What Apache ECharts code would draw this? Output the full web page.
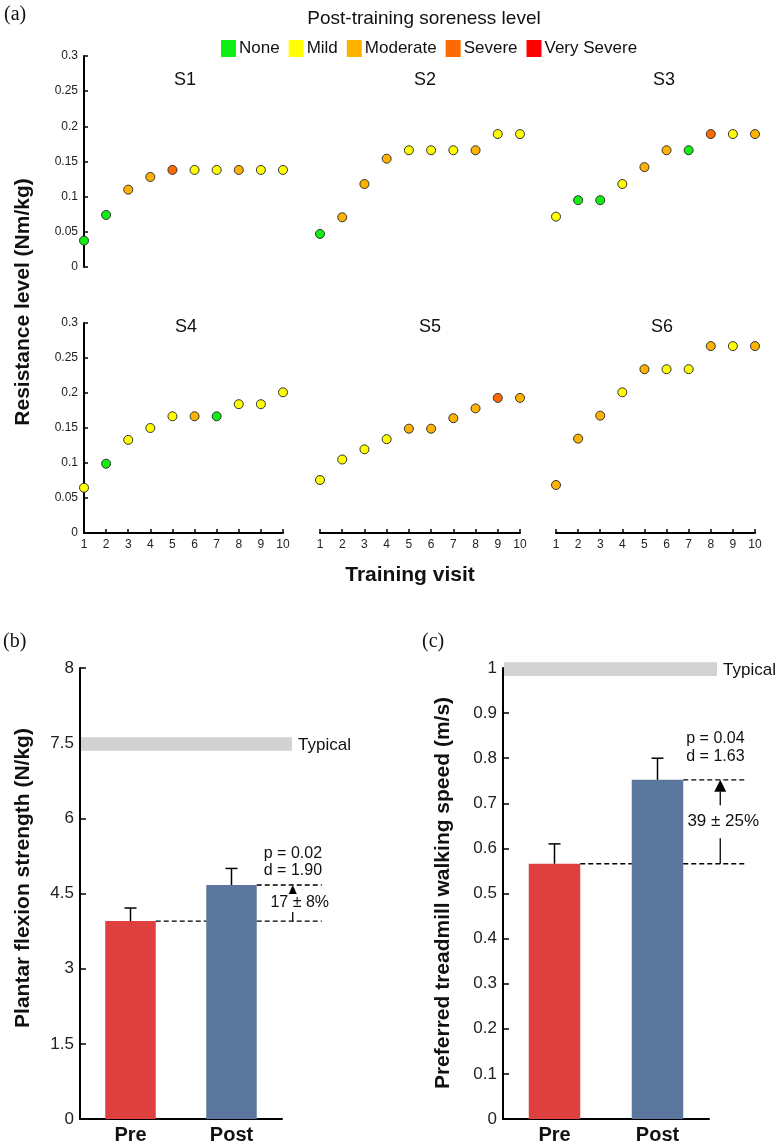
<!DOCTYPE html>
<html><head><meta charset="utf-8">
<script src="https://cdn.jsdelivr.net/npm/echarts@6/dist/echarts.min.js"></script>
<style>html,body{margin:0;padding:0;background:#fff}#c{width:778px;height:1145px}</style>
</head><body><div id="c"></div>
<script>
// ---------- DATA ----------
const levelNames = ['None', 'Mild', 'Moderate', 'Severe', 'Very Severe'];
const levelColors = ['#11EE11', '#FFFF00', '#FFB300', '#FF6A00', '#FF0000'];
const visits = [1, 2, 3, 4, 5, 6, 7, 8, 9, 10];
const subjects = ['S1', 'S2', 'S3', 'S4', 'S5', 'S6'];
// resistance level (Nm/kg) per training visit
const S1_resistance = [0.0375, 0.074, 0.110, 0.128, 0.138, 0.138, 0.138, 0.138, 0.138, 0.138];
const S2_resistance = [0.047, 0.0707, 0.118, 0.154, 0.166, 0.166, 0.166, 0.166, 0.189, 0.189];
const S3_resistance = [0.0716, 0.095, 0.095, 0.118, 0.142, 0.166, 0.166, 0.189, 0.189, 0.189];
const S4_resistance = [0.0647, 0.099, 0.133, 0.150, 0.1667, 0.1667, 0.1667, 0.184, 0.184, 0.201];
const S5_resistance = [0.0757, 0.105, 0.1196, 0.134, 0.149, 0.149, 0.164, 0.178, 0.193, 0.193];
const S6_resistance = [0.0686, 0.1348, 0.1676, 0.201, 0.234, 0.234, 0.234, 0.267, 0.267, 0.267];
// post-training soreness (index into levelNames)
const S1_soreness = [0, 0, 2, 2, 3, 1, 1, 2, 1, 1];
const S2_soreness = [0, 2, 2, 2, 1, 1, 1, 2, 1, 1];
const S3_soreness = [1, 0, 0, 1, 2, 2, 0, 3, 1, 2];
const S4_soreness = [1, 0, 1, 1, 1, 2, 0, 1, 1, 1];
const S5_soreness = [1, 1, 1, 1, 2, 2, 2, 2, 3, 2];
const S6_soreness = [2, 2, 2, 1, 2, 1, 1, 2, 1, 2];
const resistanceTicks = [0, 0.05, 0.1, 0.15, 0.2, 0.25, 0.3];

const phases = ['Pre', 'Post'];
const strength_mean = [3.95, 4.67];
const strength_errTop = [4.21, 5.00];
const strength_typical = [7.35, 7.62];
const strength_tickLabels = ['0', '1.5', '3', '4.5', '6', '7.5', '8'];
const strength_stats = ['p = 0.02', 'd = 1.90', '17 ± 8%'];

const speed_mean = [0.566, 0.752];
const speed_errTop = [0.61, 0.80];
const speed_typical = [0.982, 1.013];
const speed_stats = ['p = 0.04', 'd = 1.63', '39 ± 25%'];

const barColors = ['#DE4040', '#5B779E'];

// ---------- LAYOUT / STYLE ----------
const FONT = '"Liberation Sans", Arial, Helvetica, sans-serif';
const SERIF = '"Liberation Serif", "Times New Roman", serif';
const resist = [S1_resistance, S2_resistance, S3_resistance, S4_resistance, S5_resistance, S6_resistance];
const sore = [S1_soreness, S2_soreness, S3_soreness, S4_soreness, S5_soreness, S6_soreness];

const grids = [
  { left: 84, top: 56, width: 199, height: 211 },
  { left: 320, top: 56, width: 200, height: 211 },
  { left: 556, top: 56, width: 199, height: 211 },
  { left: 84, top: 323, width: 199, height: 210 },
  { left: 320, top: 323, width: 200, height: 210 },
  { left: 556, top: 323, width: 199, height: 210 },
  { left: 80, top: 668, width: 202, height: 451 },
  { left: 503, top: 668, width: 206, height: 451 }
];
const labelPos = [[185, 80], [425, 80], [664, 80], [186, 327], [430, 327], [662, 327]];

const axisLine = { show: true, lineStyle: { color: '#000', width: 2 } };
const tickIn = (len) => ({ show: true, inside: true, length: len, lineStyle: { color: '#000', width: 1.5 } });

const xAxes = [], yAxes = [], series = [];
for (let p = 0; p < 6; p++) {
  const bottom = p >= 3;
  xAxes.push({
    gridIndex: p, type: 'value', min: visits[0], max: visits[visits.length - 1], interval: 1,
    show: bottom, axisLine: axisLine, axisTick: tickIn(4), splitLine: { show: false },
    axisLabel: { fontSize: 12, color: '#222', fontFamily: FONT, margin: 6 }
  });
  yAxes.push({
    gridIndex: p, type: 'value', min: resistanceTicks[0], max: resistanceTicks[resistanceTicks.length - 1],
    interval: 0.05, show: p === 0 || p === 3, axisLine: axisLine, axisTick: tickIn(4), splitLine: { show: false },
    axisLabel: { fontSize: 12, color: '#222', fontFamily: FONT, margin: 6 }
  });
  for (let l = 0; l < levelNames.length; l++) {
    const data = [];
    visits.forEach((v, i) => { if (sore[p][i] === l) data.push([v, resist[p][i]]); });
    series.push({
      type: 'scatter', name: levelNames[l], xAxisIndex: p, yAxisIndex: p, data: data,
      symbol: 'circle', symbolSize: 9, clip: false,
      itemStyle: { color: levelColors[l], borderColor: '#333', borderWidth: 1, opacity: 1 },
      emphasis: { disabled: true }, z: 5
    });
  }
}

// ---------- BAR PANELS ----------
function barPanel(gi, means, errTop, typical, stats, cfg, yAxisCfg) {
  xAxes.push({
    gridIndex: gi, type: 'category', data: phases, axisLine: axisLine,
    axisTick: { show: true, inside: true, alignWithLabel: true, length: 5, lineStyle: { color: '#000', width: 1.5 } },
    axisLabel: { fontSize: 20, fontWeight: 'bold', color: '#111', fontFamily: FONT, margin: 6 }
  });
  yAxes.push(Object.assign({
    gridIndex: gi, type: 'value', axisLine: axisLine, axisTick: tickIn(6), splitLine: { show: false }
  }, yAxisCfg));
  // bars
  series.push({
    type: 'bar', xAxisIndex: gi, yAxisIndex: gi, barWidth: '50%', z: 2,
    data: means.map((m, i) => ({ value: m, itemStyle: { color: barColors[i] } })),
    emphasis: { disabled: true }
  });
  // error bars
  series.push({
    type: 'custom', xAxisIndex: gi, yAxisIndex: gi, clip: false, z: 4,
    data: means.map((m, i) => [i, m, errTop[i]]), encode: { x: 0, y: [1, 2] },
    renderItem: function (params, api) {
      const b = api.coord([api.value(0), api.value(1)]);
      const t = api.coord([api.value(0), api.value(2)]);
      const st = { stroke: '#000', lineWidth: 1.5 };
      return { type: 'group', children: [
        { type: 'line', shape: { x1: b[0], y1: b[1], x2: t[0], y2: t[1] }, style: st },
        { type: 'line', shape: { x1: t[0] - 6, y1: t[1], x2: t[0] + 6, y2: t[1] }, style: st }
      ] };
    }
  });
  // typical band
  series.push({
    type: 'custom', xAxisIndex: gi, yAxisIndex: gi, clip: false, z: 1,
    data: [[0, typical[0], typical[1]]], encode: { x: 0, y: [1, 2] },
    renderItem: function (params, api) {
      const cs = params.coordSys;
      const yLo = api.coord([0, api.value(1)])[1];
      const yHi = api.coord([0, api.value(2)])[1];
      const x0 = cs.x + 1, x1 = cs.x + cs.width + cfg.bandExt;
      return { type: 'group', children: [
        { type: 'rect', shape: { x: x0, y: yHi, width: x1 - x0, height: yLo - yHi }, style: { fill: '#D2D2D2' } },
        { type: 'text', x: x1 + 6, y: (yLo + yHi) / 2 + 1,
          style: { text: 'Typical', fill: '#111', font: '17px ' + FONT, align: 'left', verticalAlign: 'middle' } }
      ] };
    }
  });
  // change annotation
  series.push({
    type: 'custom', xAxisIndex: gi, yAxisIndex: gi, clip: false, z: 6,
    data: [[1, means[0], means[1]]], encode: { x: 0, y: [1, 2] },
    renderItem: function (params, api) {
      const pre = api.value(1), post = api.value(2);
      const half = api.size([1, 0])[0] * 0.25;
      const cPre = api.coord([0, pre]), cPostPre = api.coord([1, pre]), cPost = api.coord([1, post]);
      const preR = cPre[0] + half, postL = cPostPre[0] - half, postR = cPost[0] + half;
      const yPre = cPre[1], yPost = cPost[1];
      const xEnd = postR + cfg.lineExt, ax = postR + cfg.arrowDx;
      const dash = { stroke: '#000', lineWidth: 1.3, lineDash: [5, 3] };
      const txt = (s, x, y, align, extra) => ({ type: 'text', x: x, y: y, z2: 10,
        style: Object.assign({ text: s, fill: '#111', font: '16px ' + FONT, align: align, verticalAlign: 'middle' }, extra || {}) });
      return { type: 'group', children: [
        { type: 'line', shape: { x1: preR, y1: yPre, x2: postL, y2: yPre }, style: dash },
        { type: 'line', shape: { x1: postR, y1: yPre, x2: xEnd, y2: yPre }, style: dash },
        { type: 'line', shape: { x1: postR, y1: yPost, x2: xEnd, y2: yPost }, style: dash },
        { type: 'line', shape: { x1: ax, y1: yPre, x2: ax, y2: yPost + cfg.headH }, style: { stroke: '#000', lineWidth: 1.3 } },
        { type: 'polygon', shape: { points: [[ax, yPost], [ax - cfg.headW / 2, yPost + cfg.headH], [ax + cfg.headW / 2, yPost + cfg.headH]] }, style: { fill: '#000' } },
        txt(stats[2], ax + cfg.labelDx, (yPre + yPost) / 2, 'center',
          { font: cfg.labelFont + 'px ' + FONT, backgroundColor: '#fff', padding: cfg.labelPad }),
        txt(stats[0], postR + cfg.pdx, yPost - cfg.pDy, 'left'),
        txt(stats[1], postR + cfg.pdx, yPost - cfg.dDy, 'left')
      ] };
    }
  });
}

barPanel(6, strength_mean, strength_errTop, strength_typical, strength_stats,
  { bandExt: 10, lineExt: 65, arrowDx: 36, labelDx: 7, labelFont: 16, labelPad: [1, 2], pdx: 7, pDy: 31, dDy: 14, headW: 9, headH: 10 },
  { min: 0, max: 9, interval: 1.5,
    axisLabel: { fontSize: 17, color: '#222', fontFamily: FONT, margin: 6, formatter: (v, i) => strength_tickLabels[i] } });
barPanel(7, speed_mean, speed_errTop, speed_typical, speed_stats,
  { bandExt: 8, lineExt: 63, arrowDx: 37, labelDx: 3, labelFont: 17, labelPad: [8, 2], pdx: 3, pDy: 41, dDy: 23, headW: 12, headH: 12 },
  { min: 0, max: 1, interval: 0.1,
    axisLabel: { fontSize: 17, color: '#222', fontFamily: FONT, margin: 6 } });

// ---------- TEXT ----------
const graphic = [];
const addText = (s, x, y, font, opts) => graphic.push(Object.assign({
  type: 'text', x: x, y: y,
  style: { text: s, fill: '#111', font: font, align: 'center', verticalAlign: 'middle' }
}, opts || {}));
addText('(a)', 4, 15, '20px ' + SERIF, { style: { text: '(a)', fill: '#111', font: '20px ' + SERIF, align: 'left', verticalAlign: 'middle' } });
addText('(b)', 3, 642, '20px ' + SERIF, { style: { text: '(b)', fill: '#111', font: '20px ' + SERIF, align: 'left', verticalAlign: 'middle' } });
addText('(c)', 422, 642, '20px ' + SERIF, { style: { text: '(c)', fill: '#111', font: '20px ' + SERIF, align: 'left', verticalAlign: 'middle' } });
addText('Post-training soreness level', 424, 19, '19px ' + FONT);
subjects.forEach((s, i) => addText(s, labelPos[i][0], labelPos[i][1], '18px ' + FONT));
addText('Training visit', 410, 575, 'bold 21px ' + FONT);
addText('Resistance level (Nm/kg)', 23, 302, 'bold 21px ' + FONT, { rotation: Math.PI / 2 });
addText('Plantar flexion strength (N/kg)', 23, 878, 'bold 21px ' + FONT, { rotation: Math.PI / 2 });
addText('Preferred treadmill walking speed (m/s)', 443, 893, 'bold 21px ' + FONT, { rotation: Math.PI / 2 });

const chart = echarts.init(document.getElementById('c'), null, { renderer: 'canvas' });
chart.setOption({
  animation: false,
  backgroundColor: '#fff',
  textStyle: { fontFamily: FONT },
  grid: grids,
  xAxis: xAxes,
  yAxis: yAxes,
  legend: {
    data: levelNames, left: 216, top: 35, icon: 'rect', itemWidth: 15, itemHeight: 17, itemGap: 9,
    selectedMode: false, itemStyle: { borderWidth: 0 },
    textStyle: { fontSize: 17, color: '#111', fontFamily: FONT, padding: [0, 0, 0, -2] }
  },
  series: series,
  graphic: graphic
});
</script></body></html>
